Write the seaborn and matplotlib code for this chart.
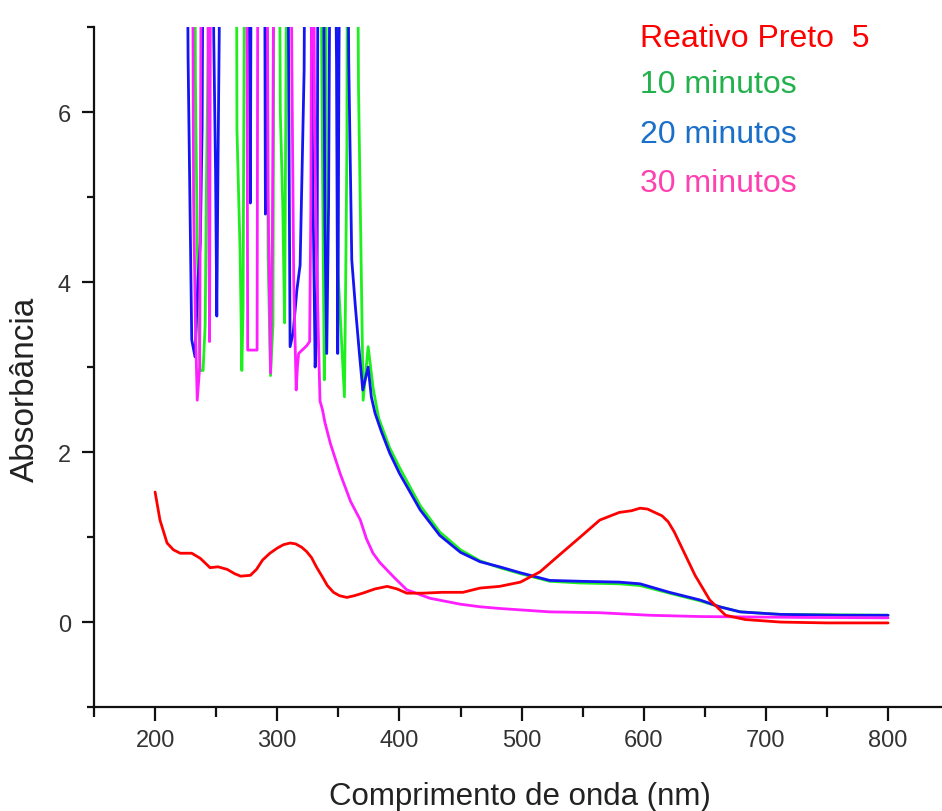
import numpy as np
import pandas as pd
import matplotlib
matplotlib.use("Agg")
import matplotlib.pyplot as plt
import seaborn as sns
from matplotlib.ticker import MultipleLocator

# ---------------- data ----------------
# Reativo Preto 5 (original dye)
rp5_wl = [200, 204, 209.8, 215, 220.5, 230, 237, 245, 251.5, 259, 265, 270, 278, 283, 288, 294, 300,
          305, 310.5, 315, 320, 324, 328, 332, 337, 341, 346, 351, 357, 363, 370, 380, 390, 398, 406, 419, 435, 452, 466,
          482, 499, 515, 531, 548, 564, 580, 590, 597, 603, 609, 615, 620, 625, 630, 642, 654, 667, 683,
          712, 750, 800]
rp5_abs = [1.53, 1.2, 0.93, 0.85, 0.81, 0.81, 0.75, 0.64, 0.65, 0.62, 0.57, 0.54, 0.55, 0.62, 0.73, 0.81, 0.87,
           0.91, 0.93, 0.92, 0.88, 0.83, 0.76, 0.65, 0.53, 0.43, 0.35, 0.31, 0.29, 0.31, 0.34, 0.39, 0.42, 0.39, 0.34, 0.34, 0.35, 0.35, 0.4,
           0.42, 0.47, 0.59, 0.79, 1.0, 1.2, 1.29, 1.31, 1.34, 1.33, 1.29, 1.25, 1.18, 1.06, 0.91, 0.55, 0.26, 0.08, 0.03,
           0.0, -0.01, -0.01]

# 10 minutos
m10_wl = [226, 232.5, 233, 234.5, 236.8, 239.3, 241, 242, 243.4, 244,
          266.5, 267, 269.6, 271, 272, 273.5,
          291.5, 292.5, 294.5, 296.5, 297.5,
          301.5, 302.5, 304.5, 306, 307, 308,
          335.5, 336.5, 337.5, 338.5, 339.5, 340.5,
          349, 349.8, 353, 355, 356, 357, 357.5,
          365.5, 366.5, 368.5, 370.3, 374.4, 378.5, 383, 392, 400, 417, 433, 450, 466,
          482, 499, 523, 548, 580, 597, 621, 646, 662, 679, 712, 760, 800]
m10_abs = [9, 9, 6.4, 4.46, 2.96, 2.96, 3.5, 5.1, 6.7, 9,
           9, 5.8, 4.34, 2.96, 3.7, 9,
           9, 4.3, 2.9, 3.5, 9,
           9, 6.0, 4.9, 3.52, 6.0, 9,
           9, 6.4, 4.6, 2.85, 4.5, 9,
           9, 4.1, 3.2, 2.65, 4.0, 5.6, 9,
           9, 6.3, 4.4, 2.61, 3.24, 2.75, 2.4, 2.05, 1.82, 1.37, 1.06, 0.85, 0.72,
           0.64, 0.57, 0.48, 0.46, 0.45, 0.43, 0.34, 0.25, 0.18, 0.12, 0.09, 0.085, 0.08]

# 20 minutos
m20_wl = [226, 227, 228.5, 230, 232.7, 235, 237, 238.5, 239.5,
          247, 248, 249.5, 250.5, 251.5, 252.5, 253,
          276.5, 277.3, 278, 278.8,
          289.5, 290.3, 291,
          308.5, 309.5, 310.5, 313, 316, 318.7, 320.3, 322, 322.8,
          327, 328, 329.5, 331, 332.5, 333.5,
          337.5, 339, 340.5, 342, 343.5,
          347, 348.5, 349.5, 350.5, 351.5,
          357.5, 358.5, 361, 364, 367, 370, 374.4, 377, 380, 385, 392, 400, 417, 433,
          450, 466, 482, 499, 523, 548, 580, 597, 621, 646, 662, 679, 712, 760, 800]
m20_abs = [9, 6.65, 4.96, 3.32, 3.12, 4.0, 4.46, 5.82, 9,
           9, 6.9, 5.3, 3.6, 5.4, 6.9, 9,
           9, 6.7, 4.93, 9,
           9, 4.8, 9,
           9, 6.0, 3.24, 3.4, 3.9, 4.2, 5.3, 6.5, 9,
           9, 6.8, 4.76, 3.0, 3.5, 9,
           9, 4.7, 3.16, 4.9, 9,
           9, 6.6, 3.16, 6.6, 9,
           9, 6.6, 4.26, 3.7, 3.2, 2.73, 3.0, 2.65, 2.46, 2.25, 1.99, 1.75, 1.32, 1.02,
           0.82, 0.71, 0.65, 0.58, 0.49, 0.48, 0.47, 0.45, 0.35, 0.26, 0.18, 0.12, 0.09, 0.08, 0.08]

# 30 minutos
m30_wl = [226, 230.5, 231.5, 233, 234.5, 236.5, 238,
          243, 243.8, 244.6, 245.5,
          274.5, 275.3, 275.8, 283.5, 284.2,
          291.5, 292.5, 294.5, 296, 297.5,
          311, 312, 313.5, 315.5, 316.5, 317.5, 324, 326.5, 327.5, 328.5,
          329.5, 330.5, 332, 334, 335, 337, 339, 343.5, 351.4, 360, 368, 373, 378.4,
          384, 396, 406, 425, 450, 466, 482, 523, 564, 605, 646, 728, 800]
m30_abs = [9, 9, 5.0, 3.5, 2.61, 3.0, 9,
           9, 5.0, 3.3, 9,
           9, 6.6, 3.2, 3.2, 9,
           9, 5.0, 2.93, 4.5, 9,
           9, 6.5, 4.0, 2.73, 3.0, 3.16, 3.25, 3.3, 4.9, 9,
           9, 6.0, 4.4, 3.16, 2.6, 2.5, 2.35, 2.1, 1.75, 1.42, 1.2, 0.98, 0.81,
           0.7, 0.52, 0.38, 0.28, 0.21, 0.18, 0.16, 0.12, 0.11, 0.08, 0.065, 0.055, 0.05]

series_names = ["Reativo Preto  5", "10 minutos", "20 minutos", "30 minutos"]
line_colors = ["#FF0000", "#1EF01E", "#1414F5", "#FF1EFF"]
label_colors = ["#FF0000", "#22B14C", "#1A6FC8", "#FF40B0"]

frames = []
for name, wl, ab in zip(series_names,
                        [rp5_wl, m10_wl, m20_wl, m30_wl],
                        [rp5_abs, m10_abs, m20_abs, m30_abs]):
    frames.append(pd.DataFrame({"wl": wl, "abs": ab, "serie": name}))
df = pd.concat(frames, ignore_index=True)

# ---------------- plot ----------------
sns.set_theme(style="ticks")
plt.rcParams["font.family"] = ["Liberation Sans", "DejaVu Sans"]

fig = plt.figure(figsize=(9.42, 8.12), dpi=100)
ax = fig.add_axes([0.0998, 0.128, 0.9078, 0.8374])

palette = dict(zip(series_names, line_colors))
draw_order = ["10 minutos", "20 minutos", "30 minutos", "Reativo Preto  5"]
for name in draw_order:
    sub = df[df["serie"] == name]
    sns.lineplot(data=sub, x="wl", y="abs", color=palette[name], lw=2.0,
                 estimator=None, sort=False, ax=ax, legend=False)

ax.set_xlim(150, 850)
ax.set_ylim(-1, 7)
ax.xaxis.set_major_locator(MultipleLocator(100))
ax.xaxis.set_minor_locator(MultipleLocator(50))
ax.yaxis.set_major_locator(MultipleLocator(2))
ax.yaxis.set_minor_locator(MultipleLocator(1))
ax.set_xticks([200, 300, 400, 500, 600, 700, 800])

for s in ["top", "right"]:
    ax.spines[s].set_visible(False)
for s in ["left", "bottom"]:
    ax.spines[s].set_linewidth(1.6)
    ax.spines[s].set_color("#111111")

ax.tick_params(axis="x", which="major", length=10, width=1.6, pad=6,
               labelsize=17, labelcolor="#333333", color="#111111", direction="out")
ax.tick_params(axis="x", which="minor", length=7, width=1.6, color="#111111", direction="out")
ax.tick_params(axis="y", which="major", length=8.5, width=1.6, pad=8,
               labelsize=17, labelcolor="#333333", color="#111111", direction="out")
ax.tick_params(axis="y", which="minor", length=5, width=1.6, color="#111111", direction="out")

ax.set_xlabel("Comprimento de onda (nm)", fontsize=22.5, color="#222222")
ax.set_ylabel("Absorbância", fontsize=24, color="#222222")
ax.xaxis.set_label_coords(0.498, -0.108)
ax.yaxis.set_label_coords(-0.062, 0.468)

ax.set_facecolor("white")
fig.patch.set_facecolor("white")

baselines = [0.942, 0.885, 0.824, 0.764]
for name, col, yb in zip(series_names, label_colors, baselines):
    fig.text(0.679, yb, name, color=col, fontsize=23, ha="left", va="baseline")

fig.savefig("out.png", dpi=100)
